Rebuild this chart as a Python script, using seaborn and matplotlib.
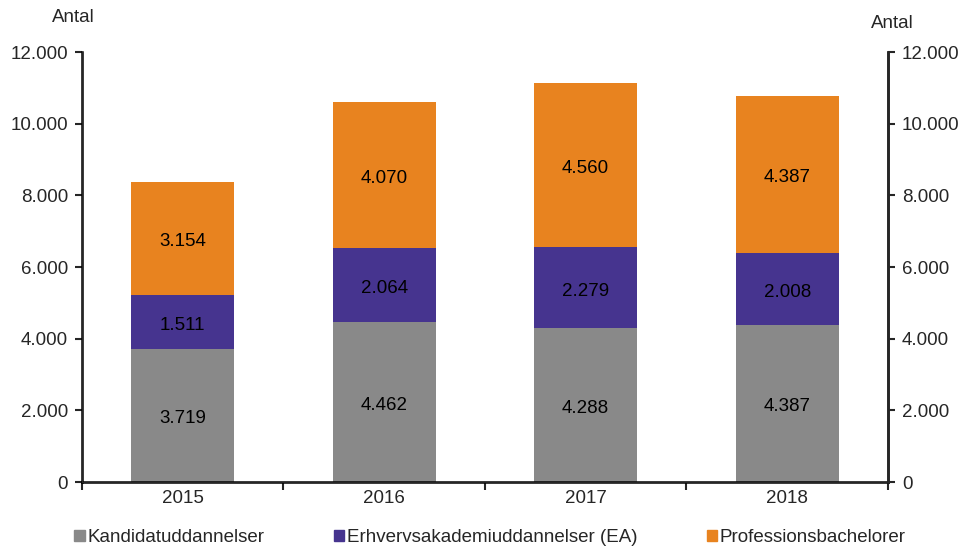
import matplotlib.pyplot as plt
import numpy as np
import pandas as pd
import seaborn as sns

# data
years = ["2015", "2016", "2017", "2018"]
kandidat = [3719, 4462, 4288, 4387]
ea = [1511, 2064, 2279, 2008]
prof = [3154, 4070, 4560, 4387]

series = ["Kandidatuddannelser", "Erhvervsakademiuddannelser (EA)", "Professionsbachelorer"]
colors = ["#898989", "#46348F", "#E8831F"]
y_ticks = [0, 2000, 4000, 6000, 8000, 10000, 12000]


def dk(v):
    return f"{v:,.0f}".replace(",", ".")


sns.set_style("white")
plt.rcParams["font.family"] = ["Liberation Sans", "DejaVu Sans"]
plt.rcParams["font.size"] = 13.5

fig = plt.figure(figsize=(9.63, 5.49), dpi=100)
ax = fig.add_axes([0.085, 0.122, 0.837, 0.783])

df = pd.DataFrame({"year": years, series[0]: kandidat, series[1]: ea, series[2]: prof})

bottom = np.zeros(len(years))
for name, col in zip(series, colors):
    sns.barplot(data=df, x="year", y=name, color=col, width=0.51, bottom=bottom,
                ax=ax, label=name, saturation=1, linewidth=0)
    bottom = bottom + df[name].values

for cont in ax.containers:
    ax.bar_label(cont, labels=[dk(v) for v in cont.datavalues], label_type="center",
                 padding=-2.5, fontsize=13.5, color="black")

ax.set_ylim(0, 12000)
ax.set_xlim(-0.5, 3.5)
ax.set_yticks(y_ticks)
ax.set_yticklabels([dk(v) for v in y_ticks])
ax.set_xlabel("")
ax.set_ylabel("")

# category separators on x axis
ax.set_xticks(np.arange(-0.5, 4, 1), minor=True)
ax.tick_params(axis="x", which="major", length=0, pad=6)
ax.tick_params(axis="x", which="minor", length=6, width=1.5, direction="out", bottom=True)
ax.tick_params(axis="y", length=5, width=1.5, direction="out", left=True, pad=5)

for s in ["left", "bottom", "right"]:
    ax.spines[s].set_linewidth(1.8)
    ax.spines[s].set_color("black")
ax.spines["top"].set_visible(False)

ax2 = ax.twinx()
ax2.set_ylim(0, 12000)
ax2.set_yticks(y_ticks)
ax2.set_yticklabels([dk(v) for v in y_ticks])
ax2.tick_params(axis="y", length=5, width=1.5, direction="out", right=True, pad=5)
ax2.spines["top"].set_visible(False)
ax2.spines["right"].set_linewidth(1.8)
ax2.grid(False)

fig.text(0.076, 0.968, "Antal", ha="center", va="center", fontsize=13.5)
fig.text(0.927, 0.958, "Antal", ha="center", va="center", fontsize=13.5)

if ax.legend_:
    ax.legend_.remove()
handles = [plt.Rectangle((0, 0), 1, 1, color=c) for c in colors]
fig.legend(handles, series, loc="lower center", bbox_to_anchor=(0.509, -0.025), ncol=3,
           frameon=False, handlelength=0.55, handleheight=0.55, handletextpad=0.15,
           columnspacing=3.7, fontsize=13.5)

fig.savefig("out.png", dpi=100)
